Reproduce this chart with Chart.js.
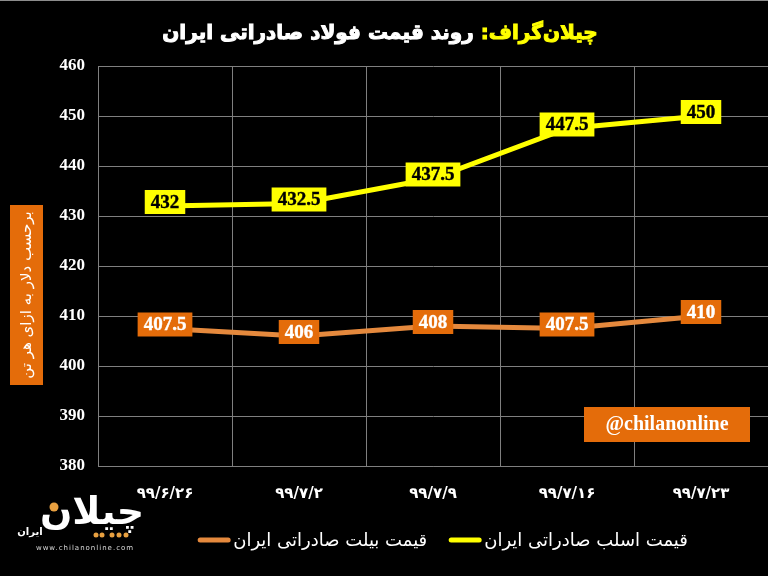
<!DOCTYPE html>
<html>
<head>
<meta charset="utf-8">
<script src="https://cdn.jsdelivr.net/npm/chart.js@4.4.1/dist/chart.umd.min.js"></script>
<style>
  html, body { margin: 0; padding: 0; background: #000; }
  canvas { display: block; }
</style>
</head>
<body>
<canvas id="steelChart" width="768" height="576"></canvas>
<script>
  // Chart data
  const dateLabels = ["۹۹/۶/۲۶", "۹۹/۷/۲", "۹۹/۷/۹", "۹۹/۷/۱۶", "۹۹/۷/۲۳"];
  const slabPrices = [432, 432.5, 437.5, 447.5, 450];
  const billetPrices = [407.5, 406, 408, 407.5, 410];
  const slabName = "قیمت اسلب صادراتی ایران";
  const billetName = "قیمت بیلت صادراتی ایران";
  const yMin = 380;
  const yMax = 460;
  const yStep = 10;

  const titleBrand = "چیلان‌گراف:";
  const titleMain = "روند قیمت فولاد صادراتی ایران";
  const yAxisTitle = "برحسب دلار به ازای هر تن";
  const watermark = "@chilanonline";

  // Colours
  const yellow = "#FFFF00";
  const orangeLine = "#E5893D";
  const orangeBox = "#E46C0A";
  const gridColor = "#7f7f7f";
  const persianFont = "'DejaVu Sans', sans-serif";
  const numberFont = "'Liberation Serif', serif";

  // Value boxes on every point
  const valueBoxes = {
    id: "valueBoxes",
    afterDatasetsDraw(chart) {
      const ctx = chart.ctx;
      ctx.save();
      ctx.font = "bold 19px " + numberFont;
      ctx.textAlign = "center";
      ctx.textBaseline = "middle";
      chart.data.datasets.forEach((ds, i) => {
        const meta = chart.getDatasetMeta(i);
        meta.data.forEach((pt, j) => {
          const text = String(ds.data[j]);
          const w = ctx.measureText(text).width + 12;
          const h = 24;
          const cx = pt.x;
          const cy = pt.y - 4;
          ctx.fillStyle = ds.boxColor;
          ctx.fillRect(cx - w / 2, cy - h / 2, w, h);
          ctx.fillStyle = ds.boxText;
          ctx.strokeStyle = ds.boxText;
          ctx.lineWidth = 0.4;
          ctx.fillText(text, cx, cy + 1);
          ctx.strokeText(text, cx, cy + 1);
        });
      });
      ctx.restore();
    },
  };

  // Background, title, axis title, legend, logo and watermark
  const decorations = {
    id: "decorations",
    beforeDraw(chart) {
      const ctx = chart.ctx;
      ctx.save();
      ctx.fillStyle = "#000";
      ctx.fillRect(0, 0, chart.width, chart.height);
      ctx.fillStyle = "#8c8c8c";
      ctx.fillRect(0, 0, chart.width, 1);
      ctx.restore();
    },
    afterDraw(chart) {
      const ctx = chart.ctx;
      ctx.save();

      // Title (two colours, right to left)
      ctx.font = "bold 20px " + persianFont;
      ctx.direction = "rtl";
      ctx.textAlign = "right";
      ctx.textBaseline = "middle";
      ctx.lineWidth = 1;
      const wBrand = ctx.measureText(titleBrand).width;
      const wMain = ctx.measureText(titleMain).width;
      const gap = 7;
      const right = 380 + (wBrand + gap + wMain) / 2;
      ctx.fillStyle = yellow;
      ctx.strokeStyle = yellow;
      ctx.fillText(titleBrand, right, 34);
      ctx.strokeText(titleBrand, right, 34);
      ctx.fillStyle = "#fff";
      ctx.strokeStyle = "#fff";
      ctx.fillText(titleMain, right - wBrand - gap, 34);
      ctx.strokeText(titleMain, right - wBrand - gap, 34);

      // Y axis title in an orange box
      ctx.fillStyle = orangeBox;
      ctx.fillRect(10, 205, 33, 180);
      ctx.translate(27, 295);
      ctx.rotate(-Math.PI / 2);
      ctx.textAlign = "center";
      ctx.font = "15px " + persianFont;
      ctx.fillStyle = "#fff";
      ctx.fillText(yAxisTitle, 0, 0);
      ctx.setTransform(1, 0, 0, 1, 0, 0);
      ctx.direction = "ltr";

      // Legend
      ctx.font = "18px " + persianFont;
      ctx.textBaseline = "middle";
      ctx.textAlign = "left";
      const items = [
        { text: billetName, color: orangeLine },
        { text: slabName, color: yellow },
      ];
      const swatch = 32, swGap = 3, itemGap = 22;
      let total = 0;
      items.forEach((it, k) => {
        it.w = ctx.measureText(it.text).width;
        total += swatch + swGap + it.w + (k ? itemGap : 0);
      });
      let x = 443 - total / 2;
      items.forEach((it) => {
        ctx.strokeStyle = it.color;
        ctx.lineWidth = 5;
        ctx.lineCap = "round";
        ctx.beginPath();
        ctx.moveTo(x + 2, 540);
        ctx.lineTo(x + swatch - 2, 540);
        ctx.stroke();
        ctx.fillStyle = "#fff";
        ctx.fillText(it.text, x + swatch + swGap, 541);
        x += swatch + swGap + it.w + itemGap;
      });

      // Watermark
      ctx.fillStyle = orangeBox;
      ctx.fillRect(584, 407, 166, 35);
      ctx.fillStyle = "#fff";
      ctx.font = "bold 20px " + numberFont;
      ctx.textAlign = "center";
      ctx.fillText(watermark, 667, 425);

      // Logo
      ctx.direction = "rtl";
      ctx.font = "bold 38px " + persianFont;
      ctx.fillStyle = "#fff";
      ctx.fillText("چیلان", 92, 514);
      ctx.font = "bold 10px " + persianFont;
      ctx.fillText("ایران", 30, 532);
      ctx.direction = "ltr";
      ctx.fillStyle = "#E8A040";
      ctx.beginPath();
      ctx.arc(54, 507, 4.5, 0, Math.PI * 2);
      ctx.fill();
      [96, 102, 112, 119, 126].forEach((dx) => {
        ctx.beginPath();
        ctx.arc(dx, 535, 2.5, 0, Math.PI * 2);
        ctx.fill();
      });
      ctx.fillStyle = "#ddd";
      ctx.font = "7px " + persianFont;
      ctx.letterSpacing = "1px";
      ctx.fillText("www.chilanonline.com", 85, 548);

      ctx.restore();
    },
  };

  const chart = new Chart(document.getElementById("steelChart").getContext("2d"), {
    type: "line",
    data: {
      labels: dateLabels,
      datasets: [
        {
          label: slabName,
          data: slabPrices,
          borderColor: yellow,
          borderWidth: 5,
          pointRadius: 0,
          tension: 0,
          boxColor: yellow,
          boxText: "#000",
        },
        {
          label: billetName,
          data: billetPrices,
          borderColor: orangeLine,
          borderWidth: 5,
          pointRadius: 0,
          tension: 0,
          boxColor: orangeBox,
          boxText: "#fff",
        },
      ],
    },
    options: {
      responsive: false,
      animation: false,
      devicePixelRatio: 1,
      layout: { padding: { top: 66, left: 0, right: 0, bottom: 0 } },
      plugins: {
        legend: { display: false },
        tooltip: { enabled: false },
      },
      scales: {
        x: {
          offset: true,
          grid: { color: gridColor, offset: true, drawTicks: false },
          border: { color: gridColor },
          ticks: {
            color: "#fff",
            padding: 19,
            font: { family: persianFont, size: 15, weight: "bold" },
          },
          afterFit: (s) => { s.height = 110; },
        },
        y: {
          min: yMin,
          max: yMax,
          grid: { color: gridColor, drawTicks: false },
          border: { color: gridColor },
          ticks: {
            stepSize: yStep,
            color: "#fff",
            padding: 13,
            font: { family: numberFont, size: 17, weight: "bold" },
          },
          afterFit: (s) => { s.width = 98; },
        },
      },
    },
    plugins: [decorations, valueBoxes],
  });
</script>
</body>
</html>
